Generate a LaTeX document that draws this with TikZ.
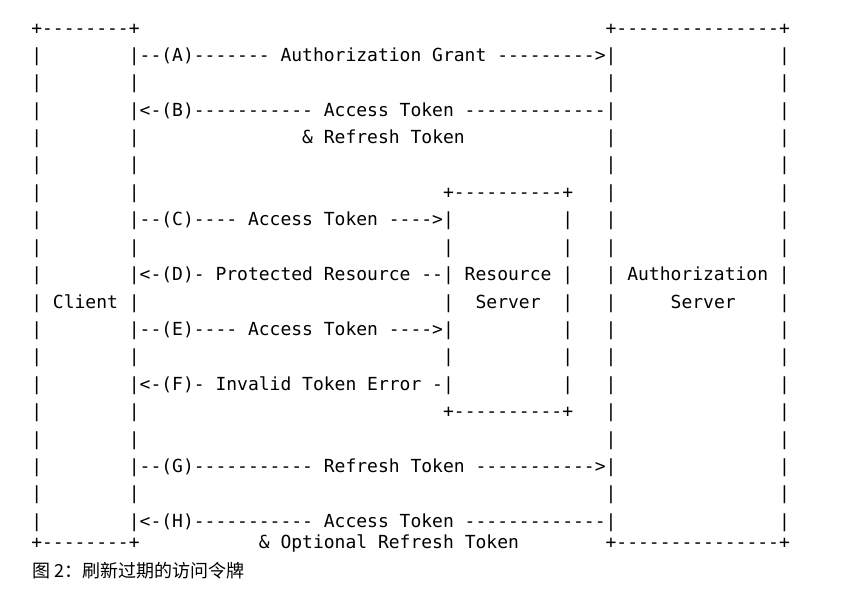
\documentclass[tikz,border=0pt]{standalone}
\usepackage{fontspec}
\setmonofont{DejaVu Sans Mono}
\newfontfamily\cjkfont{Noto Sans CJK SC}
\newcommand\sk[1]{\hskip#1\fontcharwd\font`0\relax}
\tikzset{
  asciirow/.style={anchor=base west, inner sep=0pt, outer sep=0pt,
    font=\ttfamily\fontsize{18pt}{18pt}\selectfont, text=black},
  captiontext/.style={anchor=base west, inner sep=0pt, outer sep=0pt,
    font=\cjkfont\fontsize{18pt}{18pt}\selectfont, text=black}
}
\begin{document}
\begin{tikzpicture}[x=1pt,y=1pt]
\useasboundingbox (0,0) rectangle (844,-598);
\fill[white] (0,0) rectangle (844,-598);
\def\X{31.3}
\node[asciirow] (r0)  at (\X,-34.3)  {+--------+\sk{43}+---------------+};
\node[asciirow] (r1)  at (\X,-61.2)  {|\sk{8}|--(A)------- Authorization Grant --------->|\sk{15}|};
\node[asciirow] (r2)  at (\X,-88.6)  {|\sk{8}|\sk{43}|\sk{15}|};
\node[asciirow] (r3)  at (\X,-116.0) {|\sk{8}|<-(B)----------- Access Token -------------|\sk{15}|};
\node[asciirow] (r4)  at (\X,-143.5) {|\sk{8}|\sk{15}\&~Refresh Token\sk{13}|\sk{15}|};
\node[asciirow] (r5)  at (\X,-170.9) {|\sk{8}|\sk{43}|\sk{15}|};
\node[asciirow] (r6)  at (\X,-198.3) {|\sk{8}|\sk{28}+----------+\sk{3}|\sk{15}|};
\node[asciirow] (r7)  at (\X,-225.7) {|\sk{8}|--(C)---- Access Token ---->|\sk{10}|\sk{3}|\sk{15}|};
\node[asciirow] (r8)  at (\X,-253.1) {|\sk{8}|\sk{28}|\sk{10}|\sk{3}|\sk{15}|};
\node[asciirow] (r9)  at (\X,-280.6) {|\sk{8}|<-(D)- Protected Resource --| Resource |\sk{3}| Authorization |};
\node[asciirow] (r10) at (\X,-308.0) {| Client |\sk{28}|\sk{2}Server\sk{2}|\sk{3}|\sk{5}Server\sk{4}|};
\node[asciirow] (r11) at (\X,-335.4) {|\sk{8}|--(E)---- Access Token ---->|\sk{10}|\sk{3}|\sk{15}|};
\node[asciirow] (r12) at (\X,-362.8) {|\sk{8}|\sk{28}|\sk{10}|\sk{3}|\sk{15}|};
\node[asciirow] (r13) at (\X,-390.2) {|\sk{8}|<-(F)- Invalid Token Error -|\sk{10}|\sk{3}|\sk{15}|};
\node[asciirow] (r14) at (\X,-417.7) {|\sk{8}|\sk{28}+----------+\sk{3}|\sk{15}|};
\node[asciirow] (r15) at (\X,-445.1) {|\sk{8}|\sk{43}|\sk{15}|};
\node[asciirow] (r16) at (\X,-472.5) {|\sk{8}|--(G)----------- Refresh Token ----------->|\sk{15}|};
\node[asciirow] (r17) at (\X,-499.9) {|\sk{8}|\sk{43}|\sk{15}|};
\node[asciirow] (r18) at (\X,-527.3) {|\sk{8}|<-(H)----------- Access Token -------------|\sk{15}|};
\node[asciirow] (r19) at (\X,-548.3) {+--------+\sk{11}\&~Optional Refresh Token\sk{8}+---------------+};
\node[captiontext] (cap) at (32.5,-577) {图 2：刷新过期的访问令牌};
\end{tikzpicture}
\end{document}
